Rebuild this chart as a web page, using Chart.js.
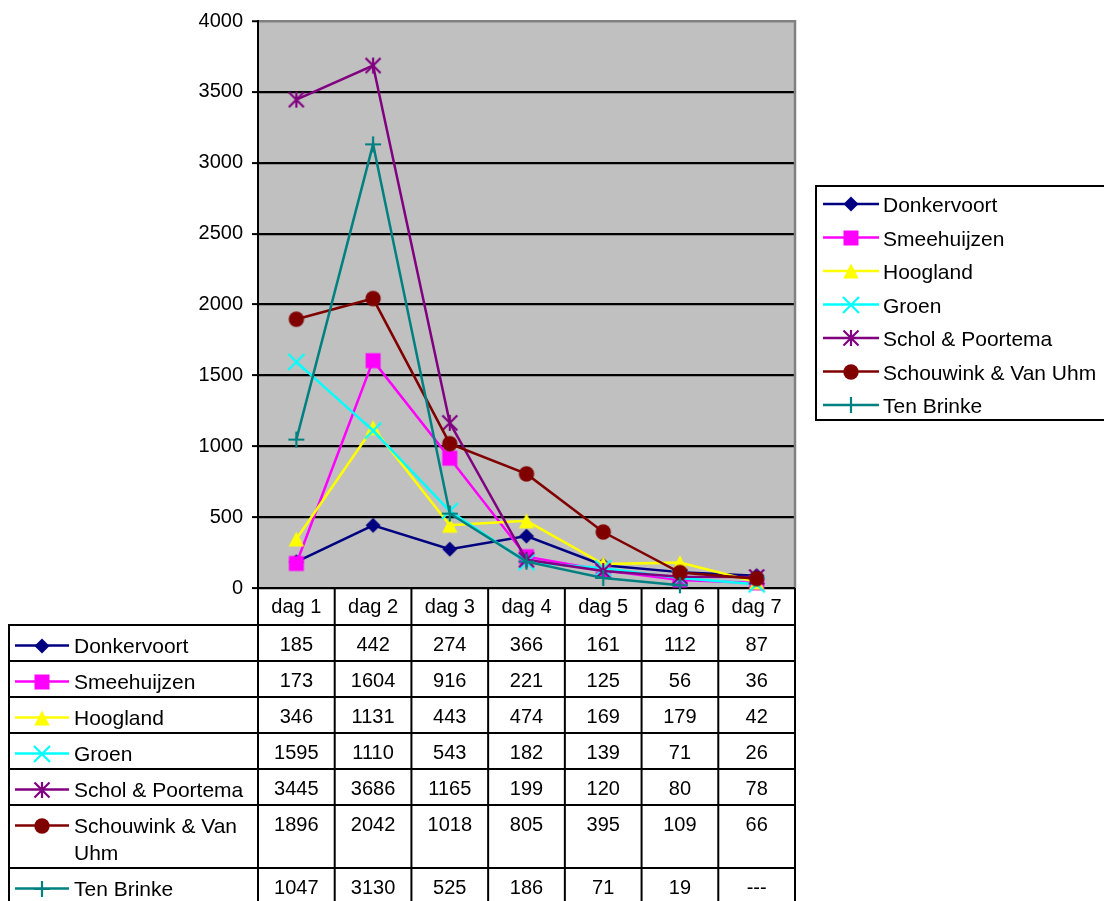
<!DOCTYPE html>
<html>
<head>
<meta charset="utf-8">
<script src="https://cdn.jsdelivr.net/npm/chart.js@4/dist/chart.umd.min.js"></script>
<style>
  html, body { margin: 0; padding: 0; background: #fff; }
  #wrap { width: 1104px; height: 901px; }
</style>
</head>
<body>
<div id="wrap"><canvas id="c" width="1104" height="901"></canvas></div>
<script>
// Days on the horizontal axis / table header
const categories = ['dag 1', 'dag 2', 'dag 3', 'dag 4', 'dag 5', 'dag 6', 'dag 7'];

// One array per series (null = no value, shown as "---")
const donkervoort     = [185, 442, 274, 366, 161, 112, 87];
const smeehuijzen     = [173, 1604, 916, 221, 125, 56, 36];
const hoogland        = [346, 1131, 443, 474, 169, 179, 42];
const groen           = [1595, 1110, 543, 182, 139, 71, 26];
const scholPoortema   = [3445, 3686, 1165, 199, 120, 80, 78];
const schouwinkVanUhm = [1896, 2042, 1018, 805, 395, 109, 66];
const tenBrinke       = [1047, 3130, 525, 186, 71, 19, null];

const seriesNames = ['Donkervoort', 'Smeehuijzen', 'Hoogland', 'Groen',
                     'Schol & Poortema', 'Schouwink & Van Uhm', 'Ten Brinke'];
const seriesValues = [donkervoort, smeehuijzen, hoogland, groen,
                      scholPoortema, schouwinkVanUhm, tenBrinke];

// Value axis
const yMin = 0;
const yMax = 4000;
const yStep = 500;

const seriesColors  = ['#000080', '#FF00FF', '#FFFF00', '#00FFFF', '#800080', '#800000', '#008080'];
const seriesMarkers = ['diamond', 'square', 'triangle', 'x', 'asterisk', 'circle', 'plus'];

const FAMILY = '"Liberation Sans", Arial, sans-serif';
const NUM_FONT = '20px ' + FAMILY;
const NAME_FONT = '21px ' + FAMILY;
const LINE_W = 2.5;

// Marker glyphs as small canvases (used as pointStyle and in legend/table keys)
function makeMarker(kind, color) {
  const s = 22, c = s / 2;
  const cv = document.createElement('canvas');
  cv.width = s; cv.height = s;
  const g = cv.getContext('2d');
  g.fillStyle = color; g.strokeStyle = color; g.lineWidth = 2.2;
  g.beginPath();
  switch (kind) {
    case 'diamond':
      g.moveTo(c - 7.5, c); g.lineTo(c, c - 7.5); g.lineTo(c + 7.5, c); g.lineTo(c, c + 7.5);
      g.closePath(); g.fill(); break;
    case 'square':
      g.fillRect(c - 7.5, c - 7.5, 15, 15); break;
    case 'triangle':
      g.moveTo(c, c - 7.5); g.lineTo(c + 7.7, c + 7.5); g.lineTo(c - 7.7, c + 7.5);
      g.closePath(); g.fill(); break;
    case 'x':
      g.moveTo(c - 8, c - 8); g.lineTo(c + 8, c + 8);
      g.moveTo(c + 8, c - 8); g.lineTo(c - 8, c + 8);
      g.stroke(); break;
    case 'asterisk':
      g.moveTo(c - 7.5, c - 7.5); g.lineTo(c + 7.5, c + 7.5);
      g.moveTo(c + 7.5, c - 7.5); g.lineTo(c - 7.5, c + 7.5);
      g.moveTo(c, c - 8); g.lineTo(c, c + 8);
      g.stroke(); break;
    case 'circle':
      g.arc(c, c, 7.7, 0, Math.PI * 2); g.fill(); break;
    case 'plus':
      g.moveTo(c - 8, c); g.lineTo(c + 8, c);
      g.moveTo(c, c - 8); g.lineTo(c, c + 8);
      g.stroke(); break;
  }
  return cv;
}
const markerImages = seriesMarkers.map((m, i) => makeMarker(m, seriesColors[i]));

function wrapText(ctx, text, maxW) {
  const words = text.split(' ');
  const lines = [];
  let cur = '';
  for (const w of words) {
    const t = cur ? cur + ' ' + w : w;
    if (ctx.measureText(t).width > maxW && cur) { lines.push(cur); cur = w; }
    else cur = t;
  }
  if (cur) lines.push(cur);
  return lines;
}

function drawKey(ctx, i, x1, x2, cy) {
  ctx.save();
  ctx.strokeStyle = seriesColors[i];
  ctx.lineWidth = LINE_W;
  ctx.beginPath();
  ctx.moveTo(x1, cy); ctx.lineTo(x2, cy);
  ctx.stroke();
  const img = markerImages[i];
  ctx.drawImage(img, Math.round((x1 + x2) / 2 - img.width / 2), Math.round(cy - img.height / 2));
  ctx.restore();
}

const decor = {
  id: 'decor',
  beforeDraw(chart) {
    const { ctx, chartArea: a } = chart;
    ctx.save();
    ctx.fillStyle = '#fff';
    ctx.fillRect(0, 0, chart.width, chart.height);
    ctx.fillStyle = '#C0C0C0';
    ctx.fillRect(a.left, a.top, a.right - a.left, a.bottom - a.top);
    ctx.restore();
  },
  beforeDatasetsDraw(chart) {
    const { ctx, chartArea: a } = chart;
    const xs = chart.scales.x;
    ctx.save();
    // plot-area frame on the right
    ctx.strokeStyle = '#808080';
    ctx.lineWidth = 2.5;
    ctx.beginPath();
    ctx.moveTo(a.right, a.top - 1); ctx.lineTo(a.right, a.bottom);
    ctx.stroke();

    // ---- data table ----
    const catW = xs.getPixelForValue(1) - xs.getPixelForValue(0);
    const edges = [];
    for (let k = 0; k <= categories.length; k++) edges.push(xs.getPixelForValue(0) - catW / 2 + k * catW);
    const tableLeft = 9;
    const headTop = a.bottom;
    const headBottom = headTop + 37;
    ctx.font = NAME_FONT;
    const labelLines = seriesNames.map(n => wrapText(ctx, n, edges[0] - 74 - 2));
    const rowTops = [];
    let y = headBottom;
    for (let i = 0; i < seriesNames.length; i++) {
      rowTops.push(y);
      y += 36 + (labelLines[i].length - 1) * 27;
    }
    const tableBottom = y;

    ctx.strokeStyle = '#000';
    ctx.lineWidth = 2;
    ctx.beginPath();
    for (const ex of edges) { ctx.moveTo(ex, headTop); ctx.lineTo(ex, tableBottom); }
    ctx.moveTo(tableLeft, headBottom); ctx.lineTo(tableLeft, tableBottom);
    ctx.moveTo(edges[0], headTop); ctx.lineTo(edges[edges.length - 1], headTop);
    for (const t of rowTops.concat([tableBottom])) {
      ctx.moveTo(tableLeft - 1, t); ctx.lineTo(edges[edges.length - 1] + 1, t);
    }
    ctx.stroke();

    ctx.fillStyle = '#000';
    ctx.textBaseline = 'alphabetic';
    ctx.textAlign = 'center';
    ctx.font = NUM_FONT;
    categories.forEach((c, k) => ctx.fillText(c, (edges[k] + edges[k + 1]) / 2, headTop + 25));
    for (let i = 0; i < seriesNames.length; i++) {
      const top = rowTops[i];
      ctx.font = NUM_FONT;
      ctx.textAlign = 'center';
      seriesValues[i].forEach((v, k) => {
        ctx.fillText(v === null ? '---' : String(v), (edges[k] + edges[k + 1]) / 2, top + 26);
      });
      drawKey(ctx, i, 15, 69, top + 20.5);
      ctx.font = NAME_FONT;
      ctx.textAlign = 'left';
      labelLines[i].forEach((ln, j) => ctx.fillText(ln, 74, top + 27.5 + j * 27));
    }

    // ---- legend ----
    ctx.lineWidth = 2;
    ctx.strokeStyle = '#000';
    ctx.strokeRect(816, 186, 400, 234);
    ctx.textAlign = 'left';
    ctx.font = NAME_FONT;
    for (let i = 0; i < seriesNames.length; i++) {
      const cy = 204 + i * 33.5;
      drawKey(ctx, i, 823, 879, cy);
      ctx.fillStyle = '#000';
      ctx.fillText(seriesNames[i], 883, cy + 8);
    }
    ctx.restore();
  }
};

const datasets = seriesNames.map((name, i) => ({
  label: name,
  data: seriesValues[i],
  borderColor: seriesColors[i],
  backgroundColor: seriesColors[i],
  borderWidth: LINE_W,
  tension: 0,
  pointStyle: markerImages[i],
  pointRadius: 8,
  pointHoverRadius: 8,
  spanGaps: false,
  clip: false,
  order: seriesNames.length - 1 - i
}));

new Chart(document.getElementById('c'), {
  type: 'line',
  data: { labels: categories, datasets },
  plugins: [decor],
  options: {
    responsive: false,
    devicePixelRatio: 1,
    animation: false,
    events: [],
    layout: { padding: { top: 20, right: 309, bottom: 313, left: 0 } },
    plugins: { legend: { display: false }, tooltip: { enabled: false } },
    scales: {
      x: { type: 'category', display: false, offset: true },
      y: {
        min: yMin, max: yMax,
        afterFit(scale) { scale.width = 258; },
        ticks: {
          stepSize: yStep, color: '#000', padding: 9,
          font: { family: FAMILY, size: 20 },
          callback: v => String(v)
        },
        grid: {
          color: ctx => (ctx.tick && ctx.tick.value === yMax ? '#808080' : '#000'),
          lineWidth: ctx => (ctx.tick && ctx.tick.value === yMax ? 2.5 : 2.2),
          drawTicks: true,
          tickLength: 6,
          tickColor: '#000',
          tickWidth: 2
        },
        border: { display: true, color: '#000', width: 2 }
      }
    }
  }
});
</script>
</body>
</html>
